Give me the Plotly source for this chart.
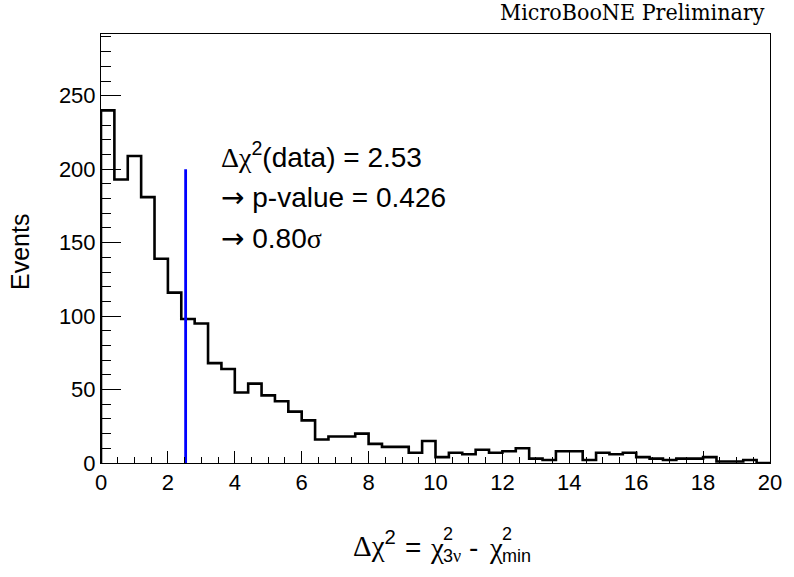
import plotly.graph_objects as go

# ---- data ----
bin_width = 0.4
x_min, x_max = 0.0, 20.0
y_max = 292
counts = [240, 193, 209, 181, 139, 116, 98, 95, 68, 64,
          48, 54, 46, 42, 35, 29, 16, 18, 18, 20,
          13, 11, 11, 7, 15, 4, 7, 6, 9, 7,
          8, 10, 3, 2, 8, 8, 2, 7, 6, 7,
          4, 3, 2, 3, 3, 4, 1, 1, 2, 0]
data_value = 2.53
line_height = 200
y_ticks = [0, 50, 100, 150, 200, 250]
x_ticks = [0, 2, 4, 6, 8, 10, 12, 14, 16, 18, 20]

SANS = "Liberation Sans, Arial"
GREEK = "Liberation Serif"
ARROW = "DejaVu Sans"

# plot-area pixel geometry
L, R, T, B = 101, 18, 34, 114
W, H = 794, 577


def g(ch):
    return f'<span style="font-family:{GREEK}">{ch}</span>'


def arrow():
    return f'<span style="font-family:{ARROW}">→</span>'


text_lines = [f"{g('Δ')}{g('χ')}<sup>2</sup>(data) = 2.53",
              f"{arrow()} p-value = 0.426",
              f"{arrow()} 0.80{g('σ')}"]
text_py = [155, 197, 238]

# build step outline from bin edges
edges = [x_min + i * bin_width for i in range(len(counts) + 1)]
hx = [edges[0]] + edges[:-1] + [edges[-1], edges[-1]]
hy = [0] + counts + [counts[-1], 0]

fig = go.Figure()
fig.add_trace(go.Scatter(x=hx, y=hy, mode="lines", line=dict(color="black", width=2.6, shape="hv"),
                         showlegend=False, hoverinfo="skip"))
fig.add_trace(go.Scatter(x=[data_value, data_value], y=[0, line_height], mode="lines",
                         line=dict(color="#0000ff", width=2.8), showlegend=False, hoverinfo="skip"))


def pix_ann(text, px, py, size, xanchor="left", family=SANS, angle=0):
    """place text at absolute page pixel (px, py) -- py measured from top"""
    fig.add_annotation(x=0, y=1, xref="paper", yref="paper",
                       xshift=px - L, yshift=-(py - T),
                       text=text, showarrow=False, xanchor=xanchor, yanchor="middle",
                       textangle=angle, borderpad=0, borderwidth=0,
                       font=dict(family=family, size=size, color="black"))


for t, py in zip(text_lines, text_py):
    pix_ann(t, 221, py, 28)

# header
pix_ann("MicroBooNE Preliminary", 765, 12, 23, xanchor="right",
        family="DejaVu Serif Condensed, DejaVu Serif")

# y title
pix_ann("Events", 20, 252, 25, xanchor="center", angle=-90)

# x title, built with stacked super/subscripts
pix_ann(f"{g('Δ')}{g('χ')}<sup>2</sup>", 396, 544, 29, xanchor="right")
pix_ann("=", 413, 547, 28, xanchor="center")
pix_ann(g("χ"), 444, 548, 29, xanchor="right")
pix_ann("2", 443, 534, 18)
pix_ann(f"3{g('ν')}", 443, 556, 18)
pix_ann("-", 473, 547, 28, xanchor="center")
pix_ann(g("χ"), 503, 548, 29, xanchor="right")
pix_ann("2", 502, 534, 18)
pix_ann("min", 502, 556, 18)

axis_common = dict(showline=True, mirror=True, linecolor="black", linewidth=1,
                   ticks="inside", tickcolor="black", tickwidth=1,
                   showgrid=False, zeroline=False,
                   tickfont=dict(family=SANS, size=22, color="black"))

fig.update_xaxes(range=[x_min, x_max], tickvals=x_ticks, ticklen=12,
                 minor=dict(ticks="inside", ticklen=6, dtick=0.5, tickcolor="black", showgrid=False),
                 **axis_common)
fig.update_yaxes(range=[0, y_max], tickvals=y_ticks, ticklen=20,
                 minor=dict(ticks="inside", ticklen=10, dtick=10, tickcolor="black", showgrid=False),
                 **axis_common)

fig.update_layout(width=W, height=H, margin=dict(l=L, r=R, t=T, b=B),
                  plot_bgcolor="white", paper_bgcolor="white")

fig.write_html("out.html")
